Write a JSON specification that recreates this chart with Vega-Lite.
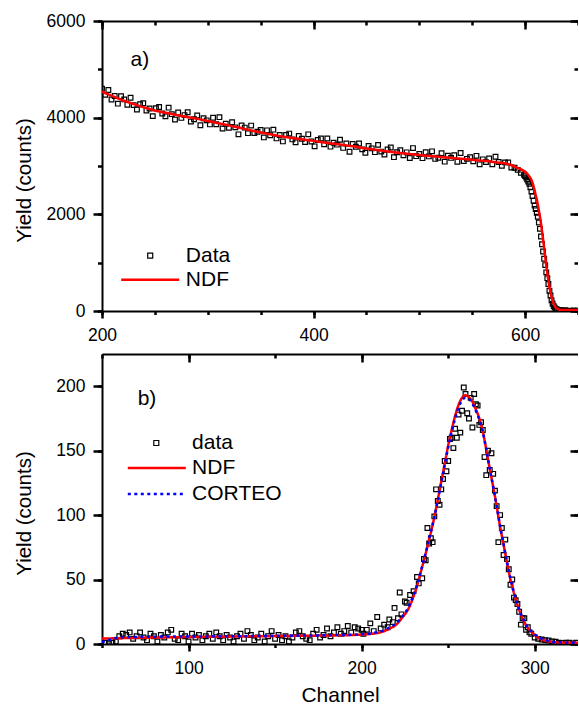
{
  "$schema": "https://vega.github.io/schema/vega-lite/v6.json",
  "padding": {"left": 14, "top": 12, "right": -2, "bottom": 0},
  "spacing": 8,
  "resolve": {
    "scale": {"color": "independent", "shape": "independent", "strokeDash": "independent"},
    "legend": {"color": "independent", "shape": "independent", "strokeDash": "independent"}
  },
  "config": {
    "view": {"stroke": null},
    "font": "Liberation Sans",
    "axis": {"grid": false, "domainColor": "black", "domainWidth": 2, "labelColor": "black", "labelFont": "Liberation Sans", "titleColor": "black", "titleFont": "Liberation Sans", "titleFontWeight": "normal", "labelFlush": false, "labelOverlap": false, "labelBound": false},
    "legend": {"padding": 0, "symbolOffset": 0, "labelFont": "Liberation Sans", "labelFontSize": 21, "labelColor": "black", "clipHeight": 20, "labelLimit": 0}
  },
  "datasets": {
    "topPts": [
      {"c":200,"y":4600},{"c":203,"y":4472},{"c":206,"y":4573},{"c":209,"y":4375},{"c":212,"y":4447},{"c":215,"y":4290},{"c":218,"y":4443},{"c":221,"y":4378},{"c":224,"y":4265},{"c":227,"y":4413},
      {"c":230,"y":4260},{"c":233,"y":4169},{"c":236,"y":4278},{"c":239,"y":4297},{"c":242,"y":4148},{"c":245,"y":4190},{"c":248,"y":4032},{"c":251,"y":4195},{"c":254,"y":4220},{"c":257,"y":4085},
      {"c":260,"y":4030},{"c":263,"y":4207},{"c":266,"y":4073},{"c":269,"y":3960},{"c":272,"y":4107},{"c":275,"y":3995},{"c":278,"y":4053},{"c":281,"y":4111},{"c":284,"y":3919},{"c":287,"y":3967},
      {"c":290,"y":4045},{"c":293,"y":3842},{"c":296,"y":3988},{"c":299,"y":3945},{"c":302,"y":3861},{"c":305,"y":3998},{"c":308,"y":3864},{"c":311,"y":4011},{"c":314,"y":3777},{"c":317,"y":3874},
      {"c":320,"y":3790},{"c":323,"y":3905},{"c":326,"y":3800},{"c":329,"y":3655},{"c":332,"y":3840},{"c":335,"y":3795},{"c":338,"y":3680},{"c":341,"y":3836},{"c":344,"y":3682},{"c":347,"y":3709},
      {"c":350,"y":3745},{"c":353,"y":3592},{"c":356,"y":3738},{"c":359,"y":3635},{"c":362,"y":3752},{"c":365,"y":3571},{"c":368,"y":3640},{"c":371,"y":3509},{"c":374,"y":3640},{"c":377,"y":3670},
      {"c":380,"y":3550},{"c":383,"y":3491},{"c":386,"y":3622},{"c":389,"y":3563},{"c":392,"y":3494},{"c":395,"y":3655},{"c":398,"y":3506},{"c":401,"y":3407},{"c":404,"y":3537},{"c":407,"y":3568},
      {"c":410,"y":3448},{"c":413,"y":3569},{"c":416,"y":3400},{"c":419,"y":3481},{"c":422,"y":3442},{"c":425,"y":3543},{"c":428,"y":3374},{"c":431,"y":3465},{"c":434,"y":3296},{"c":437,"y":3457},
      {"c":440,"y":3398},{"c":443,"y":3467},{"c":446,"y":3345},{"c":449,"y":3274},{"c":452,"y":3414},{"c":455,"y":3365},{"c":458,"y":3286},{"c":461,"y":3437},{"c":464,"y":3298},{"c":467,"y":3239},
      {"c":470,"y":3340},{"c":473,"y":3382},{"c":476,"y":3183},{"c":479,"y":3285},{"c":482,"y":3327},{"c":485,"y":3220},{"c":488,"y":3283},{"c":491,"y":3166},{"c":494,"y":3370},{"c":497,"y":3204},
      {"c":500,"y":3248},{"c":503,"y":3162},{"c":506,"y":3285},{"c":509,"y":3199},{"c":512,"y":3303},{"c":515,"y":3147},{"c":518,"y":3172},{"c":521,"y":3266},{"c":524,"y":3090},{"c":527,"y":3214},
      {"c":530,"y":3168},{"c":533,"y":3222},{"c":536,"y":3086},{"c":539,"y":3270},{"c":542,"y":3104},{"c":545,"y":3148},{"c":548,"y":3182},{"c":551,"y":3096},{"c":554,"y":3210},{"c":557,"y":3034},
      {"c":560,"y":3138},{"c":563,"y":3081},{"c":566,"y":3154},{"c":569,"y":3037},{"c":572,"y":3190},{"c":575,"y":3083},{"c":578,"y":3005},{"c":581,"y":3075},{"c":584,"y":3075},{"c":587,"y":2970},
      {"c":590,"y":2965},{"c":593,"y":2920},{"c":596,"y":2860},{"c":599,"y":2820},{"c":600,"y":2790},{"c":601,"y":2760},{"c":602,"y":2720},{"c":603,"y":2680},{"c":604,"y":2630},{"c":605,"y":2560},
      {"c":606,"y":2470},{"c":607,"y":2380},{"c":608,"y":2280},{"c":609,"y":2180},{"c":610,"y":2110},{"c":611,"y":2030},{"c":612,"y":1950},{"c":613,"y":1830},{"c":614,"y":1700},{"c":615,"y":1540},
      {"c":616,"y":1380},{"c":617,"y":1230},{"c":618,"y":1080},{"c":619,"y":950},{"c":620,"y":800},{"c":621,"y":680},{"c":622,"y":560},{"c":623,"y":420},{"c":624,"y":320},{"c":625,"y":220},
      {"c":626,"y":150},{"c":627,"y":100},{"c":628,"y":70},{"c":629,"y":45},{"c":630,"y":30},{"c":632,"y":20},{"c":634,"y":10},{"c":636,"y":5},{"c":638,"y":15},{"c":640,"y":0},
      {"c":642,"y":8},{"c":644,"y":3},{"c":646,"y":12},{"c":648,"y":0},{"c":650,"y":5}
    ],
    "topFit": [
      {"c":200,"y":4540,"s":"NDF"},{"c":210,"y":4445,"s":"NDF"},{"c":220,"y":4355,"s":"NDF"},{"c":230,"y":4280,"s":"NDF"},{"c":240,"y":4210,"s":"NDF"},{"c":250,"y":4150,"s":"NDF"},{"c":260,"y":4100,"s":"NDF"},{"c":270,"y":4055,"s":"NDF"},{"c":280,"y":4015,"s":"NDF"},{"c":290,"y":3975,"s":"NDF"},
      {"c":300,"y":3930,"s":"NDF"},{"c":310,"y":3885,"s":"NDF"},{"c":320,"y":3840,"s":"NDF"},{"c":330,"y":3790,"s":"NDF"},{"c":340,"y":3740,"s":"NDF"},{"c":350,"y":3695,"s":"NDF"},{"c":360,"y":3650,"s":"NDF"},{"c":370,"y":3612,"s":"NDF"},{"c":380,"y":3580,"s":"NDF"},{"c":390,"y":3550,"s":"NDF"},
      {"c":400,"y":3520,"s":"NDF"},{"c":410,"y":3488,"s":"NDF"},{"c":420,"y":3458,"s":"NDF"},{"c":430,"y":3428,"s":"NDF"},{"c":440,"y":3398,"s":"NDF"},{"c":450,"y":3360,"s":"NDF"},{"c":460,"y":3330,"s":"NDF"},{"c":470,"y":3300,"s":"NDF"},{"c":480,"y":3272,"s":"NDF"},{"c":490,"y":3248,"s":"NDF"},
      {"c":500,"y":3228,"s":"NDF"},{"c":510,"y":3207,"s":"NDF"},{"c":520,"y":3188,"s":"NDF"},{"c":530,"y":3168,"s":"NDF"},{"c":540,"y":3148,"s":"NDF"},{"c":550,"y":3128,"s":"NDF"},{"c":560,"y":3108,"s":"NDF"},{"c":570,"y":3085,"s":"NDF"},{"c":576,"y":3068,"s":"NDF"},{"c":580,"y":3055,"s":"NDF"},
      {"c":585,"y":3030,"s":"NDF"},{"c":590,"y":2990,"s":"NDF"},{"c":594,"y":2950,"s":"NDF"},{"c":598,"y":2910,"s":"NDF"},{"c":600,"y":2880,"s":"NDF"},{"c":602,"y":2840,"s":"NDF"},{"c":604,"y":2785,"s":"NDF"},{"c":606,"y":2710,"s":"NDF"},{"c":607,"y":2650,"s":"NDF"},{"c":608,"y":2580,"s":"NDF"},
      {"c":609,"y":2495,"s":"NDF"},{"c":610,"y":2400,"s":"NDF"},{"c":611,"y":2310,"s":"NDF"},{"c":612,"y":2200,"s":"NDF"},{"c":613,"y":2080,"s":"NDF"},{"c":614,"y":1950,"s":"NDF"},{"c":615,"y":1810,"s":"NDF"},{"c":616,"y":1650,"s":"NDF"},{"c":617,"y":1480,"s":"NDF"},{"c":618,"y":1300,"s":"NDF"},
      {"c":619,"y":1120,"s":"NDF"},{"c":620,"y":940,"s":"NDF"},{"c":621,"y":780,"s":"NDF"},{"c":622,"y":630,"s":"NDF"},{"c":623,"y":500,"s":"NDF"},{"c":624,"y":390,"s":"NDF"},{"c":625,"y":290,"s":"NDF"},{"c":626,"y":210,"s":"NDF"},{"c":627,"y":150,"s":"NDF"},{"c":628,"y":105,"s":"NDF"},
      {"c":629,"y":72,"s":"NDF"},{"c":630,"y":50,"s":"NDF"},{"c":632,"y":32,"s":"NDF"},{"c":635,"y":23,"s":"NDF"},{"c":640,"y":20,"s":"NDF"},{"c":650,"y":20,"s":"NDF"}
    ],
    "botPts": [
      {"c":52,"y":1},{"c":54,"y":0.5},{"c":56,"y":1},{"c":58,"y":2},{"c":60,"y":6},{"c":62,"y":8},{"c":64,"y":7},{"c":66,"y":9},{"c":68,"y":4},{"c":70,"y":6},
      {"c":72,"y":9},{"c":74,"y":5},{"c":76,"y":3},{"c":78,"y":8},{"c":80,"y":6},{"c":82,"y":2},{"c":84,"y":7},{"c":86,"y":5},{"c":88,"y":9},{"c":90,"y":11},
      {"c":92,"y":4},{"c":94,"y":3},{"c":96,"y":8},{"c":98,"y":6},{"c":100,"y":2},{"c":102,"y":8},{"c":104,"y":5},{"c":106,"y":7},{"c":108,"y":3},{"c":110,"y":6},
      {"c":112,"y":8},{"c":114,"y":4},{"c":116,"y":9},{"c":118,"y":6},{"c":120,"y":3},{"c":122,"y":7},{"c":124,"y":5},{"c":126,"y":2},{"c":128,"y":6},{"c":130,"y":8},
      {"c":132,"y":4},{"c":134,"y":10},{"c":136,"y":7},{"c":138,"y":3},{"c":140,"y":5},{"c":142,"y":8},{"c":144,"y":2},{"c":146,"y":6},{"c":148,"y":10},{"c":150,"y":4},
      {"c":152,"y":7},{"c":154,"y":3},{"c":156,"y":6},{"c":158,"y":2},{"c":160,"y":5},{"c":162,"y":9},{"c":164,"y":10},{"c":166,"y":6},{"c":168,"y":4},{"c":170,"y":3},
      {"c":172,"y":8},{"c":174,"y":11},{"c":176,"y":5},{"c":178,"y":7},{"c":180,"y":12},{"c":182,"y":6},{"c":184,"y":9},{"c":186,"y":13},{"c":188,"y":8},{"c":190,"y":10},
      {"c":192,"y":14},{"c":194,"y":9},{"c":196,"y":13},{"c":198,"y":12},{"c":200,"y":11},{"c":201,"y":8},{"c":203,"y":11},{"c":205,"y":16},{"c":207,"y":10},{"c":209,"y":21},
      {"c":211,"y":12},{"c":213,"y":15},{"c":215,"y":13},{"c":216,"y":19},{"c":218,"y":17},{"c":219,"y":28},{"c":221,"y":20},{"c":222,"y":40},{"c":223,"y":23},{"c":225,"y":33},
      {"c":226,"y":32},{"c":228,"y":38},{"c":230,"y":41},{"c":232,"y":52},{"c":233,"y":47},{"c":235,"y":51},{"c":236,"y":66},{"c":237,"y":65},{"c":238,"y":90},{"c":239,"y":78},
      {"c":240,"y":82},{"c":241,"y":79},{"c":242,"y":99},{"c":243,"y":120},{"c":244,"y":111},{"c":245,"y":108},{"c":246,"y":120},{"c":247,"y":128},{"c":248,"y":142},{"c":249,"y":134},
      {"c":250,"y":142},{"c":251,"y":159},{"c":252,"y":160},{"c":253,"y":152},{"c":254,"y":167},{"c":255,"y":160},{"c":256,"y":178},{"c":257,"y":164},{"c":258,"y":181},{"c":259,"y":199},
      {"c":260,"y":194},{"c":261,"y":179},{"c":262,"y":175},{"c":263,"y":191},{"c":264,"y":168},{"c":265,"y":194},{"c":266,"y":186},{"c":267,"y":185},{"c":268,"y":170},{"c":269,"y":172},
      {"c":270,"y":166},{"c":271,"y":145},{"c":272,"y":131},{"c":273,"y":150},{"c":274,"y":135},{"c":275,"y":148},{"c":276,"y":132},{"c":277,"y":119},{"c":278,"y":107},{"c":279,"y":79},
      {"c":280,"y":100},{"c":281,"y":90},{"c":282,"y":69},{"c":283,"y":81},{"c":284,"y":66},{"c":285,"y":58},{"c":286,"y":46},{"c":287,"y":50},{"c":288,"y":36},{"c":289,"y":34},
      {"c":290,"y":31},{"c":291,"y":25},{"c":292,"y":15},{"c":293,"y":20},{"c":294,"y":20},{"c":295,"y":11},{"c":296,"y":13},{"c":297,"y":9},{"c":298,"y":8},{"c":300,"y":5},
      {"c":302,"y":4},{"c":304,"y":3.5},{"c":306,"y":3},{"c":308,"y":2.7},{"c":310,"y":2},{"c":312,"y":1.7},{"c":314,"y":1},{"c":316,"y":0.9},{"c":318,"y":1},{"c":320,"y":1},
      {"c":322,"y":0.5},{"c":324,"y":1}
    ],
    "botFit": [
      {"c":50,"y":4.2,"s":"NDF"},{"c":60,"y":4.5,"s":"NDF"},{"c":80,"y":5,"s":"NDF"},{"c":100,"y":5.4,"s":"NDF"},{"c":120,"y":5.7,"s":"NDF"},{"c":140,"y":6,"s":"NDF"},{"c":160,"y":6.3,"s":"NDF"},{"c":180,"y":6.6,"s":"NDF"},{"c":195,"y":7,"s":"NDF"},{"c":205,"y":7.8,"s":"NDF"},
      {"c":210,"y":8.8,"s":"NDF"},{"c":214,"y":10.5,"s":"NDF"},{"c":217,"y":12.5,"s":"NDF"},{"c":220,"y":15,"s":"NDF"},{"c":222,"y":18,"s":"NDF"},{"c":224,"y":21.5,"s":"NDF"},{"c":226,"y":25,"s":"NDF"},{"c":228,"y":30,"s":"NDF"},{"c":230,"y":37,"s":"NDF"},{"c":232,"y":45,"s":"NDF"},
      {"c":234,"y":55,"s":"NDF"},{"c":236,"y":65,"s":"NDF"},{"c":238,"y":75.5,"s":"NDF"},{"c":240,"y":86.5,"s":"NDF"},{"c":242,"y":98.5,"s":"NDF"},{"c":244,"y":112,"s":"NDF"},{"c":246,"y":126,"s":"NDF"},{"c":248,"y":140,"s":"NDF"},{"c":250,"y":154,"s":"NDF"},{"c":252,"y":166,"s":"NDF"},
      {"c":254,"y":177,"s":"NDF"},{"c":256,"y":185.5,"s":"NDF"},{"c":258,"y":191,"s":"NDF"},{"c":260,"y":193,"s":"NDF"},{"c":262,"y":191.5,"s":"NDF"},{"c":264,"y":188,"s":"NDF"},{"c":266,"y":182,"s":"NDF"},{"c":268,"y":175,"s":"NDF"},{"c":270,"y":165,"s":"NDF"},{"c":272,"y":151,"s":"NDF"},
      {"c":274,"y":136,"s":"NDF"},{"c":276,"y":122,"s":"NDF"},{"c":278,"y":107,"s":"NDF"},{"c":280,"y":91,"s":"NDF"},{"c":282,"y":77,"s":"NDF"},{"c":284,"y":63,"s":"NDF"},{"c":286,"y":50,"s":"NDF"},{"c":288,"y":39.5,"s":"NDF"},{"c":290,"y":30.5,"s":"NDF"},{"c":292,"y":23,"s":"NDF"},
      {"c":294,"y":17,"s":"NDF"},{"c":296,"y":12.5,"s":"NDF"},{"c":298,"y":9.5,"s":"NDF"},{"c":300,"y":7,"s":"NDF"},{"c":302,"y":5,"s":"NDF"},{"c":304,"y":3.5,"s":"NDF"},{"c":306,"y":2.6,"s":"NDF"},{"c":308,"y":2,"s":"NDF"},{"c":310,"y":1.6,"s":"NDF"},{"c":314,"y":1.2,"s":"NDF"},
      {"c":320,"y":1,"s":"NDF"},{"c":325,"y":1,"s":"NDF"},
      {"c":50,"y":1.5,"s":"CORTEO"},{"c":53,"y":2.5,"s":"CORTEO"},{"c":56,"y":4,"s":"CORTEO"},{"c":60,"y":5,"s":"CORTEO"},{"c":70,"y":5.5,"s":"CORTEO"},{"c":80,"y":5.7,"s":"CORTEO"},{"c":100,"y":5.8,"s":"CORTEO"},{"c":140,"y":6.2,"s":"CORTEO"},{"c":180,"y":6.8,"s":"CORTEO"},{"c":195,"y":7.2,"s":"CORTEO"},
      {"c":205,"y":8.2,"s":"CORTEO"},{"c":210,"y":9.4,"s":"CORTEO"},{"c":214,"y":11.2,"s":"CORTEO"},{"c":217,"y":13.5,"s":"CORTEO"},{"c":220,"y":16,"s":"CORTEO"},{"c":222,"y":19,"s":"CORTEO"},{"c":224,"y":22.5,"s":"CORTEO"},{"c":226,"y":26,"s":"CORTEO"},{"c":228,"y":31.5,"s":"CORTEO"},{"c":230,"y":38,"s":"CORTEO"},
      {"c":232,"y":46,"s":"CORTEO"},{"c":234,"y":55.5,"s":"CORTEO"},{"c":236,"y":65.5,"s":"CORTEO"},{"c":238,"y":76,"s":"CORTEO"},{"c":240,"y":87,"s":"CORTEO"},{"c":242,"y":98.5,"s":"CORTEO"},{"c":244,"y":111.5,"s":"CORTEO"},{"c":246,"y":125,"s":"CORTEO"},{"c":248,"y":139,"s":"CORTEO"},{"c":250,"y":152.5,"s":"CORTEO"},
      {"c":252,"y":164.5,"s":"CORTEO"},{"c":254,"y":175,"s":"CORTEO"},{"c":256,"y":183.5,"s":"CORTEO"},{"c":258,"y":189,"s":"CORTEO"},{"c":260,"y":191,"s":"CORTEO"},{"c":262,"y":190,"s":"CORTEO"},{"c":264,"y":186.5,"s":"CORTEO"},{"c":266,"y":181,"s":"CORTEO"},{"c":268,"y":174,"s":"CORTEO"},{"c":270,"y":164.5,"s":"CORTEO"},
      {"c":272,"y":151,"s":"CORTEO"},{"c":274,"y":136,"s":"CORTEO"},{"c":276,"y":122,"s":"CORTEO"},{"c":278,"y":107,"s":"CORTEO"},{"c":280,"y":91.5,"s":"CORTEO"},{"c":282,"y":77.5,"s":"CORTEO"},{"c":284,"y":63.5,"s":"CORTEO"},{"c":286,"y":50.5,"s":"CORTEO"},{"c":288,"y":40,"s":"CORTEO"},{"c":290,"y":31,"s":"CORTEO"},
      {"c":292,"y":23.5,"s":"CORTEO"},{"c":294,"y":17.5,"s":"CORTEO"},{"c":296,"y":13,"s":"CORTEO"},{"c":298,"y":10,"s":"CORTEO"},{"c":300,"y":7.5,"s":"CORTEO"},{"c":302,"y":5.5,"s":"CORTEO"},{"c":304,"y":4,"s":"CORTEO"},{"c":306,"y":3,"s":"CORTEO"},{"c":308,"y":2.3,"s":"CORTEO"},{"c":310,"y":1.8,"s":"CORTEO"},
      {"c":314,"y":1.3,"s":"CORTEO"},{"c":320,"y":1,"s":"CORTEO"},{"c":325,"y":1,"s":"CORTEO"}
    ]
  },
  "vconcat": [
    {
      "width": 476,
      "height": 290,
      "resolve": {"axis": {"x": "independent", "y": "independent"}},
      "layer": [
        {
          "data": {"name": "topPts"},
          "mark": {"type": "point", "filled": false, "size": 22, "strokeWidth": 1.2, "color": "black", "opacity": 1, "clip": true},
          "encoding": {
            "x": {"field": "c", "type": "quantitative", "scale": {"domain": [200, 650], "nice": false, "zero": false},
              "axis": {"orient": "bottom", "tickCount": 3, "format": "d", "title": null, "tickSize": 7, "tickColor": "black", "tickWidth": 2.5, "labelFontSize": 17.5, "labelPadding": 8}},
            "y": {"field": "y", "type": "quantitative", "scale": {"domain": [0, 6000], "nice": false},
              "axis": {"orient": "left", "tickCount": 4, "format": "d", "title": "Yield (counts)",
                "titleX": -72, "titleY": 159, "titleAngle": 270, "titleBaseline": "alphabetic", "titleAlign": "center", "titleFontSize": 20.5,
                "tickSize": 9, "tickColor": "black", "tickWidth": 2.5, "labelFontSize": 17.5, "labelPadding": 8}},
            "shape": {"datum": "Data", "type": "nominal", "scale": {"domain": ["Data"], "range": ["square"]},
              "legend": {"orient": "none", "legendX": 37.7, "legendY": 224.7, "title": null, "symbolSize": 25, "symbolStrokeWidth": 1.2, "labelOffset": 25.1}}
          }
        },
        {
          "data": {"name": "topFit"},
          "mark": {"type": "line", "strokeWidth": 2.5, "interpolate": "monotone", "clip": true},
          "encoding": {
            "x": {"field": "c", "type": "quantitative",
              "axis": {"orient": "top", "title": null, "labels": false, "ticks": false, "domain": true}},
            "y": {"field": "y", "type": "quantitative",
              "axis": {"orient": "right", "tickCount": 4, "title": null, "labels": false, "domain": false, "offset": -8, "tickSize": 8, "tickColor": "black", "tickWidth": 2.5}},
            "color": {"field": "s", "type": "nominal", "scale": {"domain": ["NDF"], "range": ["#ff0000"]},
              "legend": {"orient": "none", "legendX": 17.7, "legendY": 248.7, "title": null, "symbolSize": 3364, "symbolStrokeWidth": 2.5, "labelOffset": 5.1}}
          }
        },
        {
          "data": {"name": "topFit"},
          "mark": {"type": "point", "opacity": 0, "size": 1, "clip": true},
          "encoding": {
            "x": {"field": "c", "type": "quantitative",
              "axis": {"orient": "bottom", "tickCount": 9, "title": null, "labels": false, "domain": false, "tickSize": 3.5, "tickColor": "black", "tickWidth": 2.5}},
            "y": {"field": "y", "type": "quantitative",
              "axis": {"orient": "left", "tickCount": 6, "title": null, "labels": false, "domain": false, "tickSize": 4.5, "tickColor": "black", "tickWidth": 2.5}}
          }
        },
        {
          "data": {"name": "topFit"},
          "mark": {"type": "point", "opacity": 0, "size": 1, "clip": true},
          "encoding": {
            "x": {"field": "c", "type": "quantitative",
              "axis": {"orient": "top", "tickCount": 3, "title": null, "labels": false, "domain": false, "offset": -8, "tickSize": 8, "tickColor": "black", "tickWidth": 2.5}},
            "y": {"field": "y", "type": "quantitative",
              "axis": {"orient": "right", "tickCount": 6, "title": null, "labels": false, "domain": false, "offset": -4, "tickSize": 4, "tickColor": "black", "tickWidth": 2.5}}
          }
        },
        {
          "data": {"name": "topFit"},
          "mark": {"type": "point", "opacity": 0, "size": 1, "clip": true},
          "encoding": {
            "x": {"field": "c", "type": "quantitative",
              "axis": {"orient": "top", "tickCount": 9, "title": null, "labels": false, "domain": false, "offset": -4, "tickSize": 4, "tickColor": "black", "tickWidth": 2.5}},
            "y": {"field": "y", "type": "quantitative", "axis": null}
          }
        },
        {
          "data": {"values": [{"t": "a)"}]},
          "mark": {"type": "text", "align": "left", "baseline": "middle", "fontSize": 21, "font": "Liberation Sans", "color": "black"},
          "encoding": {
            "text": {"field": "t"},
            "x": {"datum": 227, "type": "quantitative", "axis": null},
            "y": {"datum": 5200, "type": "quantitative", "axis": null}
          }
        }
      ]
    },
    {
      "width": 476,
      "height": 290,
      "resolve": {"axis": {"x": "independent", "y": "independent"}},
      "layer": [
        {
          "data": {"name": "botPts"},
          "mark": {"type": "point", "filled": false, "size": 22, "strokeWidth": 1.2, "color": "black", "opacity": 1, "clip": true},
          "encoding": {
            "x": {"field": "c", "type": "quantitative", "scale": {"domain": [50, 325], "nice": false, "zero": false},
              "axis": {"orient": "bottom", "tickCount": 3, "format": "d", "title": "Channel",
                "titleFontSize": 21, "titleBaseline": "alphabetic", "titleY": 57,
                "tickSize": 7, "tickColor": "black", "tickWidth": 2.5, "labelFontSize": 17.5, "labelPadding": 8}},
            "y": {"field": "y", "type": "quantitative", "scale": {"domain": [0, 225], "nice": false},
              "axis": {"orient": "left", "tickCount": 5, "format": "d", "title": "Yield (counts)",
                "titleX": -72, "titleY": 159, "titleAngle": 270, "titleBaseline": "alphabetic", "titleAlign": "center", "titleFontSize": 20.5,
                "tickSize": 9, "tickColor": "black", "tickWidth": 2.5, "labelFontSize": 17.5, "labelPadding": 8}},
            "shape": {"datum": "data", "type": "nominal", "scale": {"domain": ["data"], "range": ["square"]},
              "legend": {"orient": "none", "legendX": 43.8, "legendY": 79, "title": null, "symbolSize": 25, "symbolStrokeWidth": 1.2, "labelOffset": 25.3}}
          }
        },
        {
          "data": {"name": "botFit"},
          "mark": {"type": "line", "strokeWidth": 2.5, "interpolate": "monotone", "clip": true},
          "encoding": {
            "x": {"field": "c", "type": "quantitative",
              "axis": {"orient": "top", "title": null, "labels": false, "ticks": false, "domain": true}},
            "y": {"field": "y", "type": "quantitative",
              "axis": {"orient": "right", "tickCount": 5, "title": null, "labels": false, "domain": false, "offset": -8, "tickSize": 8, "tickColor": "black", "tickWidth": 2.5}},
            "color": {"field": "s", "type": "nominal", "scale": {"domain": ["NDF", "CORTEO"], "range": ["#ff0000", "#0000ff"]},
              "legend": {"orient": "none", "legendX": 24.3, "legendY": 104, "title": null, "symbolSize": 3364, "symbolStrokeWidth": 2.5, "labelOffset": 4.8, "rowPadding": 5}},
            "strokeDash": {"field": "s", "type": "nominal", "scale": {"domain": ["NDF", "CORTEO"], "range": [[1, 0], [3, 3.5]]},
              "legend": {"orient": "none", "legendX": 24.3, "legendY": 104, "title": null, "symbolSize": 3364, "symbolStrokeWidth": 2.5, "labelOffset": 4.8, "rowPadding": 5}}
          }
        },
        {
          "data": {"name": "botFit"},
          "mark": {"type": "point", "opacity": 0, "size": 1, "clip": true},
          "encoding": {
            "x": {"field": "c", "type": "quantitative",
              "axis": {"orient": "bottom", "tickCount": 6, "title": null, "labels": false, "domain": false, "tickSize": 3.5, "tickColor": "black", "tickWidth": 2.5}},
            "y": {"field": "y", "type": "quantitative",
              "axis": {"orient": "left", "tickCount": 5, "title": null, "labels": false, "domain": false, "tickSize": 4.5, "tickColor": "black", "tickWidth": 2.5}}
          }
        },
        {
          "data": {"name": "botFit"},
          "mark": {"type": "point", "opacity": 0, "size": 1, "clip": true},
          "encoding": {
            "x": {"field": "c", "type": "quantitative",
              "axis": {"orient": "top", "tickCount": 3, "title": null, "labels": false, "domain": false, "offset": -8, "tickSize": 8, "tickColor": "black", "tickWidth": 2.5}},
            "y": {"field": "y", "type": "quantitative",
              "axis": {"orient": "right", "tickCount": 5, "title": null, "labels": false, "domain": false, "offset": -4, "tickSize": 4, "tickColor": "black", "tickWidth": 2.5}}
          }
        },
        {
          "data": {"name": "botFit"},
          "mark": {"type": "point", "opacity": 0, "size": 1, "clip": true},
          "encoding": {
            "x": {"field": "c", "type": "quantitative",
              "axis": {"orient": "top", "tickCount": 6, "title": null, "labels": false, "domain": false, "offset": -4, "tickSize": 4, "tickColor": "black", "tickWidth": 2.5}},
            "y": {"field": "y", "type": "quantitative", "axis": null}
          }
        },
        {
          "data": {"values": [{"t": "b)"}]},
          "mark": {"type": "text", "align": "left", "baseline": "middle", "fontSize": 21, "font": "Liberation Sans", "color": "black"},
          "encoding": {
            "text": {"field": "t"},
            "x": {"datum": 70.6, "type": "quantitative", "axis": null},
            "y": {"datum": 190, "type": "quantitative", "axis": null}
          }
        }
      ]
    }
  ]
}
